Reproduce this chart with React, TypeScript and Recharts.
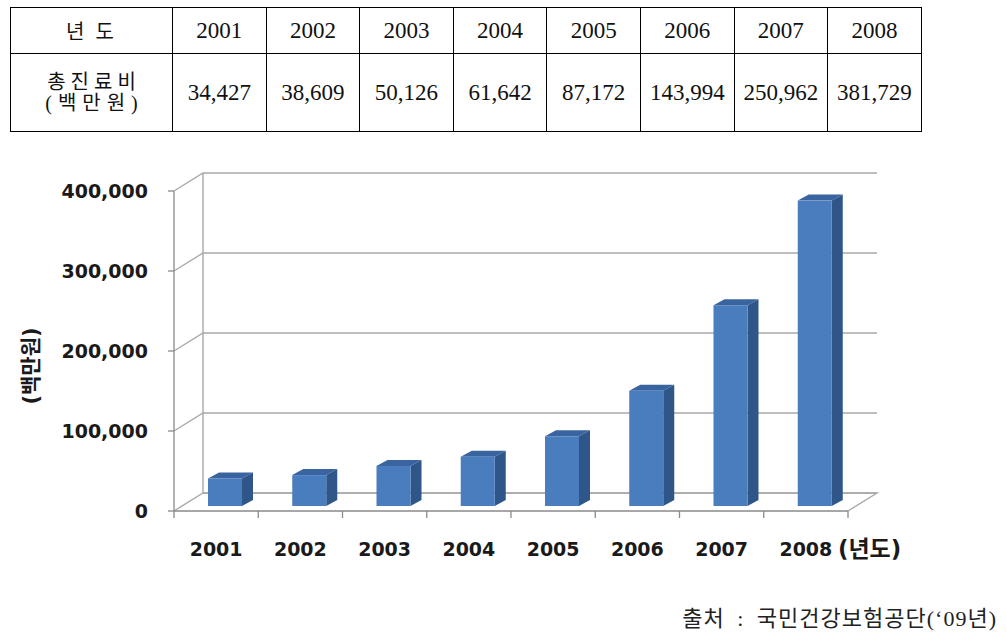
import React from "react";
import { BarChart, Bar, XAxis, YAxis, CartesianGrid, ReferenceArea } from "recharts";

const years = ["2001", "2002", "2003", "2004", "2005", "2006", "2007", "2008"];
const totalCost = [34427, 38609, 50126, 61642, 87172, 143994, 250962, 381729];
const yTicks = [0, 100000, 200000, 300000, 400000];

const rowLabel = "총진료비";
const unitLabel = "(백만원)";
const yearHeader = "년 도";
const xUnit = "(년도)";
const source = "출처 : 국민건강보험공단(‘09년)";

const data = years.map((year, i) => ({ year, cost: totalCost[i] }));

// layout
const CHART_W = 1007;
const CHART_H = 440;
const MARGIN = { top: 51, right: 159, bottom: 29, left: 0 };
const Y_AXIS_W = 174;
const PLOT_W = CHART_W - MARGIN.left - MARGIN.right - Y_AXIS_W;
const BAND = PLOT_W / years.length;

// fake 3d
const DX = 29;
const DY = 18;
const BAR_DX = 11;
const BAR_DY = 6;
const BAR_SHIFT = 9;
const BAR_LIFT = 5;

const GRID = "#a9a9a9";
const AXIS = "#8a8a8a";
const LABEL_FONT = "'DejaVu Sans', 'Noto Sans CJK KR', sans-serif";
const SERIF = "'Liberation Serif', 'Times New Roman', Times, 'Noto Sans CJK KR', serif";

const fmt = (v: number) => v.toLocaleString("en-US");

const gridLine = (p: any) => {
  const { x1, x2, y1 } = p;
  return (
    <path
      key={`g-${y1}`}
      d={`M${x1},${y1}L${x1 + DX},${y1 - DY}L${x2 + DX},${y1 - DY}`}
      fill="none"
      stroke={GRID}
      strokeWidth={1.4}
    />
  );
};

const frame = (p: any) => {
  const { x, y, width, height } = p;
  const bottom = y + height;
  const right = x + width;
  return (
    <path
      d={`M${x + DX},${y - DY}L${x + DX},${bottom - DY}L${right + DX},${bottom - DY}L${right},${bottom}`}
      fill="none"
      stroke={GRID}
      strokeWidth={1.4}
    />
  );
};

const Bar3D = (p: any) => {
  const { x, y, width, height } = p;
  if (height == null || width == null) return null;
  const fx = x + BAR_SHIFT;
  const fy = y - BAR_LIFT;
  const r = fx + width;
  const b = fy + height;
  return (
    <g>
      <polygon
        points={`${fx},${fy} ${fx + BAR_DX},${fy - BAR_DY} ${r + BAR_DX},${fy - BAR_DY} ${r},${fy}`}
        fill="#3a64a0"
      />
      <polygon
        points={`${r},${fy} ${r + BAR_DX},${fy - BAR_DY} ${r + BAR_DX},${b - BAR_DY} ${r},${b}`}
        fill="#2e5689"
      />
      <rect x={fx} y={fy} width={width} height={height} fill="#4a7dbd" />
    </g>
  );
};

const XTick = (p: any) => {
  const { x, y, payload, index } = p;
  const last = index === years.length - 1;
  const half = BAND / 2;
  return (
    <g>
      <line x1={x - half} y1={y} x2={x - half} y2={y + 7} stroke={AXIS} strokeWidth={1.3} />
      {last && <line x1={x + half} y1={y} x2={x + half} y2={y + 7} stroke={AXIS} strokeWidth={1.3} />}
      <text x={x} y={y + 45} textAnchor="middle" fill="#1a1a1a" fontSize={19} fontWeight={700} fontFamily={LABEL_FONT}>
        {payload.value}
      </text>
      {last && (
        <text x={x + 32} y={y + 46} textAnchor="start" fill="#1a1a1a" fontSize={23} fontWeight={700} fontFamily={LABEL_FONT}>
          {xUnit}
        </text>
      )}
    </g>
  );
};

const YTitle = () => (
  <text
    x={31}
    y={226}
    transform="rotate(-90 31 226)"
    textAnchor="middle"
    dominantBaseline="central"
    fill="#1a1a1a"
    fontSize={21}
    fontWeight={700}
    fontFamily={LABEL_FONT}
  >
    {unitLabel}
  </text>
);

const cell: React.CSSProperties = {
  border: "1px solid #000",
  textAlign: "center",
  verticalAlign: "middle",
  padding: 0,
  fontFamily: SERIF,
  fontSize: 23,
  color: "#111",
};

export default function App() {
  return (
    <div style={{ position: "absolute", left: 0, top: 0, width: 1007, height: 640, background: "#fff", overflow: "hidden" }}>
      <table
        style={{
          position: "absolute",
          left: 10,
          top: 7,
          width: 911,
          height: 124,
          borderCollapse: "collapse",
          tableLayout: "fixed",
        }}
      >
        <colgroup>
          <col style={{ width: 162 }} />
          {years.map((y) => (
            <col key={y} style={{ width: 93.6 }} />
          ))}
        </colgroup>
        <tbody>
          <tr style={{ height: 46 }}>
            <td style={{ ...cell, fontSize: 20, letterSpacing: 3 }}>{yearHeader}</td>
            {years.map((y) => (
              <td key={y} style={cell}>{y}</td>
            ))}
          </tr>
          <tr style={{ height: 78 }}>
            <td style={{ ...cell, fontSize: 20, lineHeight: "21px" }}>
              <div style={{ letterSpacing: 5, paddingLeft: 5 }}>{rowLabel}</div>
              <div style={{ letterSpacing: 6, paddingLeft: 6 }}>{unitLabel}</div>
            </td>
            {totalCost.map((v, i) => (
              <td key={years[i]} style={cell}>{fmt(v)}</td>
            ))}
          </tr>
        </tbody>
      </table>

      <div style={{ position: "absolute", left: 0, top: 140 }}>
        <BarChart width={CHART_W} height={CHART_H} data={data} margin={MARGIN} barSize={34}>
          <ReferenceArea y1={0} y2={400000} shape={frame} fill="none" />
          <CartesianGrid horizontal={gridLine} vertical={false} />
          <XAxis
            dataKey="year"
            height={40}
            interval={0}
            tickSize={0}
            tickMargin={0}
            tickLine={false}
            axisLine={{ stroke: AXIS, strokeWidth: 1.3 }}
            tick={<XTick />}
          />
          <YAxis
            width={Y_AXIS_W}
            domain={[0, 400000]}
            ticks={yTicks}
            interval={0}
            tickFormatter={fmt}
            tickSize={6}
            tickMargin={20}
            axisLine={{ stroke: AXIS, strokeWidth: 1.3 }}
            tickLine={{ stroke: AXIS, strokeWidth: 1.3 }}
            tick={{ fill: "#1a1a1a", fontSize: 19, fontWeight: 700, fontFamily: LABEL_FONT }}
            label={<YTitle />}
          />
          <Bar dataKey="cost" shape={Bar3D} isAnimationActive={false} />
        </BarChart>
      </div>

      <div
        style={{
          position: "absolute",
          right: 10,
          top: 600,
          fontFamily: SERIF,
          fontSize: 22,
          letterSpacing: 1,
          wordSpacing: 6,
          color: "#222",
          whiteSpace: "nowrap",
        }}
      >
        {source}
      </div>
    </div>
  );
}
